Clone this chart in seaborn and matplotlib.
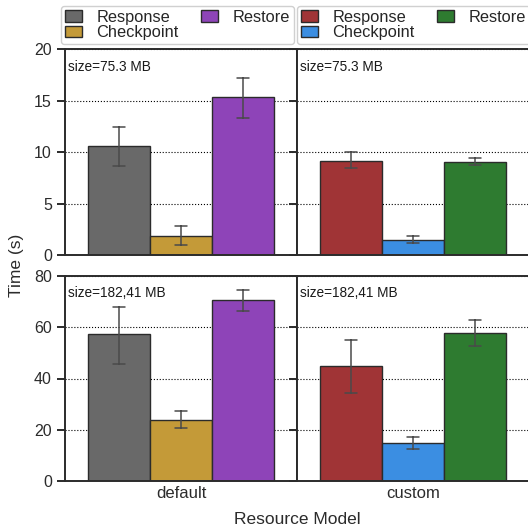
import numpy as np
import pandas as pd
import seaborn as sns
import matplotlib
matplotlib.use("Agg")
import matplotlib.pyplot as plt
import matplotlib.patches as mpatches

# ---- data ----
models = ["default", "custom"]
sizes = ["size=75.3 MB", "size=182,41 MB"]
components = ["Response", "Checkpoint", "Restore"]

mean_small_default = [10.55, 1.82, 15.33]
lo_small_default = [8.65, 0.97, 13.28]
hi_small_default = [12.45, 2.82, 17.23]

mean_small_custom = [9.16, 1.46, 9.04]
lo_small_custom = [8.45, 1.14, 8.72]
hi_small_custom = [10.04, 1.82, 9.43]

mean_large_default = [57.4, 24.0, 70.4]
lo_large_default = [45.8, 20.6, 66.3]
hi_large_default = [67.9, 27.5, 74.6]

mean_large_custom = [44.7, 14.9, 57.6]
lo_large_custom = [34.2, 12.7, 52.8]
hi_large_custom = [54.9, 17.4, 62.8]

palette_default = ["#696969", "#c49a38", "#8e44b8"]
palette_custom = ["#a03436", "#3b8ee2", "#2e7b30"]

y_limits = [20, 80]
y_ticks = [[0, 5, 10, 15, 20], [0, 20, 40, 60, 80]]

table = {
    (0, 0): (mean_small_default, lo_small_default, hi_small_default),
    (0, 1): (mean_small_custom, lo_small_custom, hi_small_custom),
    (1, 0): (mean_large_default, lo_large_default, hi_large_default),
    (1, 1): (mean_large_custom, lo_large_custom, hi_large_custom),
}

# ---- style ----
sns.set_theme(style="ticks")
plt.rcParams["font.family"] = ["Liberation Sans", "DejaVu Sans"]
plt.rcParams["axes.edgecolor"] = "#2b2b2b"
plt.rcParams["axes.linewidth"] = 1.4

fig = plt.figure(figsize=(5.28, 5.31), dpi=100)
W, H = 528, 531
left_px, mid_px, right_px = 65, 297, 529
rows_px = [(49.3, 255.0), (275.7, 481.3)]

axes = {}
for r in range(2):
    top, bot = rows_px[r]
    for c in range(2):
        x0 = [left_px, mid_px][c]
        x1 = [mid_px, right_px][c]
        ax = fig.add_axes([x0 / W, 1 - bot / H, (x1 - x0) / W, (bot - top) / H])
        axes[(r, c)] = ax

for (r, c), ax in axes.items():
    mean, lo, hi = table[(r, c)]
    rows = []
    for comp, m, l, h in zip(components, mean, lo, hi):
        for v in (l, m, h):
            rows.append({"model": models[c], "component": comp, "time": v})
    df = pd.DataFrame(rows)
    pal = palette_default if c == 0 else palette_custom
    ax.yaxis.grid(True, linestyle=":", color="black", linewidth=0.8)
    ax.set_axisbelow(True)
    sns.barplot(data=df, x="model", y="time", hue="component", hue_order=components,
                palette=pal, estimator="median", errorbar=("pi", 100),
                capsize=0.15, saturation=1, edgecolor="#2b2b2b", linewidth=1.0,
                err_kws={"color": "#4a4a4a", "linewidth": 1.1, "zorder": 4},
                legend=False, ax=ax)
    ax.set_ylim(0, y_limits[r])
    ax.set_yticks(y_ticks[r])
    ax.set_xlim(-0.5, 0.5)
    ax.tick_params(axis="y", length=6, width=1.4, labelsize=11.5, colors="#2b2b2b")
    ax.tick_params(axis="x", length=0, labelsize=12, colors="#2b2b2b")
    ax.set_xlabel("")
    ax.set_ylabel("")
    if c == 1:
        ax.tick_params(axis="y", labelleft=False)
    if r == 0:
        ax.tick_params(axis="x", labelbottom=False)
    for sp in ax.spines.values():
        sp.set_visible(True)
    ax.text(0.015, 0.948, sizes[r], transform=ax.transAxes, ha="left", va="top",
            fontsize=9.8, color="#1a1a1a")

# legends
for c in range(2):
    ax = axes[(0, c)]
    pal = palette_default if c == 0 else palette_custom
    handles = [mpatches.Patch(facecolor=col, edgecolor="#2b2b2b", linewidth=1.0, label=lab)
               for col, lab in zip(pal, components)]
    x0 = -0.017 if c == 0 else 0.0
    ax.legend(handles=handles, loc="lower left", bbox_to_anchor=(x0, 1.026, 1.004, 0.2),
              mode="expand", ncol=2, frameon=True, fontsize=11.8, borderaxespad=0,
              labelspacing=0.05, borderpad=0.22, handlelength=1.05, handleheight=0.7,
              handletextpad=0.9, fancybox=True, edgecolor="#d0d0d0", framealpha=1)

fig.text(17 / W, 1 - 265 / H, "Time (s)", rotation=90, ha="center", va="center",
         fontsize=12.5, color="#2b2b2b")
fig.text(297 / W, 1 - 519 / H, "Resource Model", ha="center", va="center",
         fontsize=12.5, color="#2b2b2b")

fig.savefig("out.png", dpi=100)
